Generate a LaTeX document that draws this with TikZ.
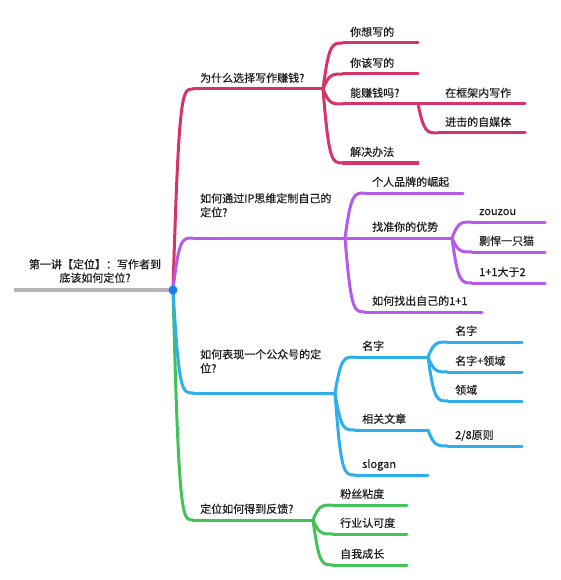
\documentclass[tikz,border=0pt]{standalone}
\usepackage{fontspec}
\setmainfont{Noto Sans CJK SC}[FakeBold=0.35]
\usetikzlibrary{calc}
\definecolor{cred}{HTML}{D63468}
\definecolor{cpur}{HTML}{B65BE9}
\definecolor{cblu}{HTML}{2EAFEC}
\definecolor{cgrn}{HTML}{43C259}
\definecolor{cgray}{HTML}{B5B5B5}
\definecolor{cdot}{HTML}{1F7CF0}
\definecolor{ctxt}{HTML}{1E1E1E}
\tikzset{
  br/.style={line width=3pt, line cap=round},
  lbl/.style={font=\fontsize{11}{14}\selectfont, inner sep=0pt, anchor=base west, text=ctxt, align=left},
  rootlbl/.style={font=\fontsize{11}{13.5}\selectfont, inner sep=0pt, text=ctxt, align=center},
  rootln/.style={line width=4pt, cgray}
}
\newcommand\mmtopic[7]{%
  \coordinate (#2-s) at (#3,#5);
  \coordinate (#2-e) at (#4,#5);
  \draw[br,#1] (#2-s) -- (#2-e);
  \node[lbl] (#2) at ([xshift=7pt,yshift=#6pt]#2-s) {#7};}
\newcommand\mmlink[3]{%
  \draw[br,#1] let \p1=(#2), \p2=(#3) in (\p1) .. controls (\x1+6pt,\y2) and (\x1+9pt,\y2) .. (\p2);}
\begin{document}
\begin{tikzpicture}[x=1pt,y=-1pt]
\useasboundingbox (0,0) rectangle (560,580);
\fill[white] (0,0) rectangle (560,580);

\coordinate (O) at (173,290);
\coordinate (R) at (14,290);
\draw[rootln] (R) -- (O);
\node[rootlbl] (root) at (95,271) {第一讲【定位】：写作者到\\底该如何定位?};

% ---- red ----
\mmtopic{cred}{A}{193}{323}{89}{7}{为什么选择写作赚钱?}
\mmtopic{cred}{A1}{343}{418}{43}{7}{你想写的}
\mmtopic{cred}{A2}{343}{418}{74}{7}{你该写的}
\mmtopic{cred}{A3}{343}{418}{104}{7}{能赚钱吗?}
\mmtopic{cred}{A31}{438}{525}{104}{7}{在框架内写作}
\mmtopic{cred}{A32}{438}{525}{133}{7}{进击的自媒体}
\mmtopic{cred}{A4}{343}{418}{163}{7}{解决办法}

% ---- purple ----
\mmtopic{cpur}{B}{193}{345}{238}{21.5}{如何通过IP思维定制自己的\\定位?}
\mmtopic{cpur}{B1}{365}{463}{193}{7}{个人品牌的崛起}
\mmtopic{cpur}{B2}{365}{452}{238}{7}{找准你的优势}
\mmtopic{cpur}{B21}{472}{545}{222}{7}{zouzou}
\mmtopic{cpur}{B22}{472}{545}{252}{7}{剽悍一只猫}
\mmtopic{cpur}{B23}{472}{545}{283}{7}{1+1大于2}
\mmtopic{cpur}{B3}{365}{482}{312}{7}{如何找出自己的1+1}

% ---- blue ----
\mmtopic{cblu}{C}{193}{335}{393}{20.5}{如何表现一个公众号的定\\位?}
\mmtopic{cblu}{C1}{355}{428}{357}{7}{名字}
\mmtopic{cblu}{C11}{448}{522}{342}{7}{名字}
\mmtopic{cblu}{C12}{448}{522}{372}{7}{名字+领域}
\mmtopic{cblu}{C13}{448}{522}{401}{7}{领域}
\mmtopic{cblu}{C2}{355}{428}{430}{7}{相关文章}
\mmtopic{cblu}{C21}{448}{522}{446}{7}{2/8原则}
\mmtopic{cblu}{C3}{355}{428}{475}{7}{slogan}

% ---- green ----
\mmtopic{cgrn}{D}{193}{313}{520}{7}{定位如何得到反馈?}
\mmtopic{cgrn}{D1}{333}{407}{505}{7}{粉丝粘度}
\mmtopic{cgrn}{D2}{333}{407}{534}{7}{行业认可度}
\mmtopic{cgrn}{D3}{333}{407}{565}{7}{自我成长}

% ---- links ----
\mmlink{cred}{A-e}{A1-s}
\mmlink{cred}{A-e}{A2-s}
\mmlink{cred}{A-e}{A3-s}
\mmlink{cred}{A-e}{A4-s}
\mmlink{cred}{A3-e}{A31-s}
\mmlink{cred}{A3-e}{A32-s}

\mmlink{cpur}{B-e}{B1-s}
\mmlink{cpur}{B-e}{B2-s}
\mmlink{cpur}{B-e}{B3-s}
\mmlink{cpur}{B2-e}{B21-s}
\mmlink{cpur}{B2-e}{B22-s}
\mmlink{cpur}{B2-e}{B23-s}

\mmlink{cblu}{C-e}{C1-s}
\mmlink{cblu}{C-e}{C2-s}
\mmlink{cblu}{C-e}{C3-s}
\mmlink{cblu}{C1-e}{C11-s}
\mmlink{cblu}{C1-e}{C12-s}
\mmlink{cblu}{C1-e}{C13-s}
\mmlink{cblu}{C2-e}{C21-s}

\mmlink{cgrn}{D-e}{D1-s}
\mmlink{cgrn}{D-e}{D2-s}
\mmlink{cgrn}{D-e}{D3-s}

\mmlink{cgrn}{O}{D-s}
\mmlink{cblu}{O}{C-s}
\mmlink{cred}{O}{A-s}
\mmlink{cpur}{O}{B-s}

\fill[cdot] (O) circle (4.5);
\end{tikzpicture}
\end{document}
